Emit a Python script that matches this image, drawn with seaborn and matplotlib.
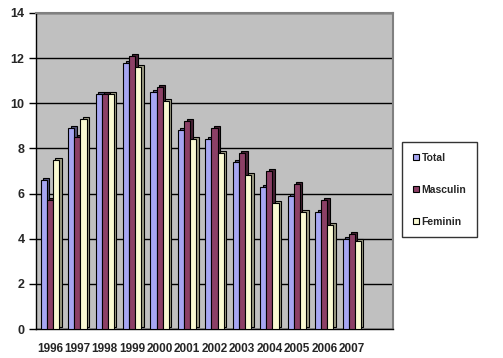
import matplotlib
matplotlib.use("Agg")
import matplotlib.pyplot as plt
import matplotlib.transforms as mtransforms
import seaborn as sns
import pandas as pd

years = ["1996", "1997", "1998", "1999", "2000", "2001", "2002",
         "2003", "2004", "2005", "2006", "2007"]
total = [6.6, 8.9, 10.4, 11.8, 10.5, 8.8, 8.4, 7.4, 6.3, 5.9, 5.2, 4.0]
masculin = [5.7, 8.5, 10.4, 12.1, 10.7, 9.2, 8.9, 7.8, 7.0, 6.4, 5.7, 4.2]
feminin = [7.5, 9.3, 10.4, 11.6, 10.1, 8.4, 7.8, 6.8, 5.6, 5.2, 4.6, 3.9]
series = ["Total", "Masculin", "Feminin"]
colors = ["#9999FF", "#993366", "#FFFFCC"]
side_colors = ["#4C4C80", "#4C1A33", "#A0A080"]
yticks = [0, 2, 4, 6, 8, 10, 12, 14]

rows = []
for s, vals in zip(series, [total, masculin, feminin]):
    for y, v in zip(years, vals):
        rows.append({"An": y, "Serie": s, "Valoare": v})
df = pd.DataFrame(rows)

sns.set_style("white")
plt.rcParams['font.family'] = ['Liberation Sans', 'DejaVu Sans']

fig = plt.figure(figsize=(5.03, 3.58), dpi=100)
ax = fig.add_axes([0.072, 0.081, 0.709, 0.883])
ax.set_facecolor("#C0C0C0")

# shadow (3D side) bars
sns.barplot(data=df, x="An", y="Valoare", hue="Serie", order=years,
            hue_order=series, palette=side_colors, width=0.67, gap=0,
            edgecolor="black", linewidth=0.8, ax=ax, legend=False)
n_shadow = len(ax.patches)
off = mtransforms.ScaledTranslation(2.5 / 100, 2.0 / 100, fig.dpi_scale_trans)
for p in ax.patches[:n_shadow]:
    p.set_transform(ax.transData + off)
    p.set_zorder(2)

sns.barplot(data=df, x="An", y="Valoare", hue="Serie", order=years,
            hue_order=series, palette=colors, width=0.67, gap=0,
            edgecolor="black", linewidth=0.8, ax=ax)
for p in ax.patches[n_shadow:]:
    p.set_zorder(3)

ax.set_xlim(-0.5, len(years) + 0.5)
ax.set_ylim(0, 14)
ax.set_yticks(yticks)
ax.set_yticklabels([str(t) for t in yticks], fontsize=9, fontweight="bold")
ax.yaxis.grid(True, color="black", linewidth=1.0)
ax.xaxis.grid(False)
ax.set_axisbelow(True)

ax.set_xticks(range(len(years)))
ax.set_xticklabels(years, fontsize=8.5, fontweight="bold")
ax.set_xticks([i - 0.5 for i in range(len(years) + 2)], minor=True)
ax.tick_params(axis="x", which="major", length=0, pad=10)
ax.tick_params(axis="x", which="minor", length=5, width=1, color="black", direction="out")
ax.tick_params(axis="y", length=5, width=1, color="black", direction="out", left=True)
ax.set_xlabel("")
ax.set_ylabel("")

for side in ["left", "bottom"]:
    ax.spines[side].set_color("black")
    ax.spines[side].set_linewidth(1.0)
for side in ["top", "right"]:
    ax.spines[side].set_color("#808080")
    ax.spines[side].set_linewidth(1.5)

handles, labels = ax.get_legend_handles_labels()
leg = ax.legend(handles, labels, loc="upper left", bbox_to_anchor=(1.027, 0.59),
                frameon=True, fancybox=False, edgecolor="black",
                prop={"size": 7.5, "weight": "bold"}, handlelength=0.55,
                handleheight=0.55, labelspacing=2.1, borderpad=1.0,
                handletextpad=0.3, borderaxespad=0)
leg.get_frame().set_linewidth(1.0)

fig.savefig("out.png", dpi=100)
